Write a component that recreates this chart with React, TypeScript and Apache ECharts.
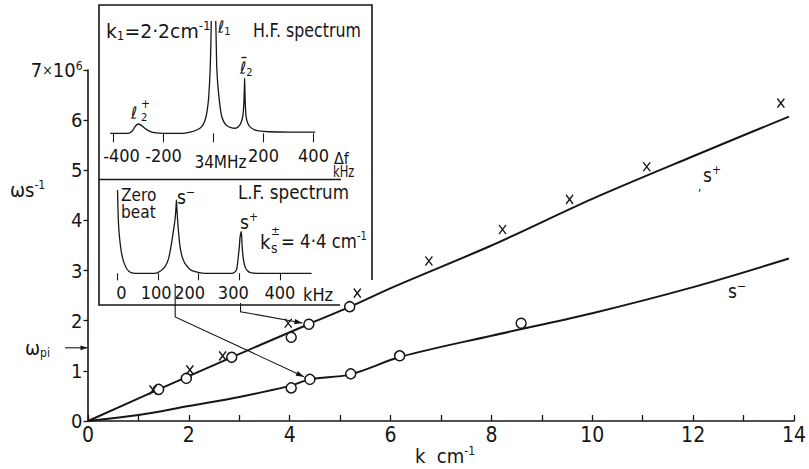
import React, { useEffect, useRef } from "react";
import * as echarts from "echarts";

// ---- main graph data (k in cm^-1, omega in units of 10^6 s^-1) ----
const xTicks = [0, 2, 4, 6, 8, 10, 12, 14];
const yTicks = [0, 1, 2, 3, 4, 5, 6, 7];
const upperK = [0, 1.4, 2.8, 4.35, 5.2, 6.05, 8, 10, 12, 13.9];
const upperW = [0, 0.63, 1.25, 1.92, 2.28, 2.67, 3.5, 4.43, 5.28, 6.07];
const lowerK = [0, 1, 2, 3, 4, 4.4, 5.2, 6.2, 8, 10, 12, 13.9];
const lowerW = [0, 0.12, 0.3, 0.48, 0.7, 0.83, 0.93, 1.28, 1.7, 2.15, 2.67, 3.24];
const circUpK = [1.4, 1.95, 2.85, 4.03, 4.38, 5.19];
const circUpW = [0.63, 0.85, 1.27, 1.67, 1.93, 2.28];
const circLoK = [4.03, 4.4, 5.21, 6.18, 8.59];
const circLoW = [0.66, 0.83, 0.94, 1.3, 1.95];
const crossK = [1.29, 2.02, 2.67, 3.97, 5.34, 6.76, 8.22, 9.55, 11.08, 13.74];
const crossW = [0.62, 1.02, 1.3, 1.95, 2.55, 3.19, 3.82, 4.42, 5.07, 6.34];
const omegaPi = 1.46;

// ---- H.F. spectrum (delta f in kHz, relative amplitude) ----
const hfTicks = [-400, -200, 0, 200, 400];
const hfTickLabels = ["-400", "-200", "34MHz", "200", "400"];
const hfF = [-413, -340, -325, -315, -302, -290, -275, -255, -230, -200, -120, -90, -65, -47, -35, -27, -20, -16, -13, -10.5, -9, 0, 9, 11, 13, 17, 23, 28, 33, 42, 53, 70, 87, 100, 110, 117, 121, 123.5, 124.5, 126, 128, 131, 138, 147, 165, 180, 220, 300, 407];
const hfA = [0, 0, 2, 5.5, 8.3, 7.3, 4.5, 1.8, 0.3, 0, 0, 1.2, 3.2, 6, 11, 18, 30, 44, 59, 80, 100, null, 100, 80, 59, 44, 30, 21, 15, 10, 7, 5, 4.5, 6, 9.5, 15, 25, 40, 49, 35, 22, 14, 8.5, 5.5, 3, 2.2, 1.4, 1, 1];

// ---- L.F. spectrum (f in kHz, relative amplitude) ----
const lfTicks = [0, 100, 200, 300, 400];
const lfTickLabels = ["0", "100", "200", "300", "400"];
const lfF = [0, 1, 2, 4, 7, 10, 15, 22, 28, 35, 45, 92, 105, 117, 126, 133, 138, 141.5, 144, 145, 146.5, 148, 151, 154, 159, 166, 178, 191, 215, 282, 290, 294, 297.5, 300, 302, 305, 307, 310, 314, 320, 330, 347, 478];
const lfA = [100, 80, 64, 48, 34, 24, 14, 6, 2.5, 0.5, 0, 0, 2.5, 8, 18, 36, 52, 64, 78, 88, 76, 64, 46, 32, 20, 12, 5, 2, 0, 0, 2, 6, 20, 32, 44, 50, 32, 17, 8, 3, 0.5, 0, 0];
const sMinusKHz = 142;
const sPlusKHz = 303;

const F = "'DejaVu Sans Condensed','Liberation Sans Narrow','DejaVu Sans',sans-serif";
const INK = "#161616";

const zip = (a: number[], b: (number | null)[]) => a.map((v, i) => [v, b[i] === null ? "-" : b[i]]);

function rich(size: number) {
  const s = Math.round(size * 0.62);
  return {
    n: { fontSize: size, fontFamily: F, fill: INK, lineHeight: Math.round(size * 1.15) },
    u: { fontSize: s, fontFamily: F, fill: INK, verticalAlign: "top", lineHeight: s },
    d: { fontSize: s, fontFamily: F, fill: INK, verticalAlign: "bottom", lineHeight: s },
  };
}

function T(x: number, y: number, text: string, size = 20, sx = 1) {
  const isRich = text.indexOf("{") >= 0;
  const style: any = isRich
    ? { text, align: "left", verticalAlign: "middle", fontFamily: F, fontSize: size, fill: INK, rich: rich(size) }
    : { text, align: "left", verticalAlign: "middle", fontFamily: F, fontSize: size, fill: INK, lineHeight: size };
  return { type: "text", x, y, scaleX: sx, z: 20, style };
}

function line(points: number[][], w = 1.1) {
  return { type: "polyline", z: 15, shape: { points }, style: { stroke: INK, lineWidth: w, fill: "none" } };
}

function head(tip: number[], from: number[], len = 8, half = 2.6) {
  const dx = tip[0] - from[0];
  const dy = tip[1] - from[1];
  const L = Math.hypot(dx, dy) || 1;
  const ux = dx / L;
  const uy = dy / L;
  const bx = tip[0] - ux * len;
  const by = tip[1] - uy * len;
  return {
    type: "polygon",
    z: 16,
    shape: { points: [tip, [bx - uy * half, by + ux * half], [bx + uy * half, by - ux * half]] },
    style: { fill: INK },
  };
}

export default function App() {
  const ref = useRef<HTMLDivElement>(null);
  useEffect(() => {
    const el = ref.current!;
    const chart = echarts.init(el, null, { renderer: "svg" });
    const mainLabelRich = {
      n: { fontSize: 20, fontFamily: F, color: INK },
      x: { fontSize: 14, fontFamily: F, color: INK },
      u: { fontSize: 12, fontFamily: F, color: INK, verticalAlign: "top", lineHeight: 10 },
    };
    const lfShift: Record<string, number[]> = { "0": [0, 0, 0, 8], "100": [0, 4, 0, 0], "200": [0, 18, 0, 0], "300": [0, 12, 0, 0], "400": [0, 0, 0, 0] };
    const lfRich: any = {};
    lfTickLabels.forEach((l, i) => {
      lfRich["l" + i] = { fontSize: 18, fontFamily: F, color: INK, padding: lfShift[l] };
    });
    const hfRich: any = {
      a: { fontSize: 18, fontFamily: F, color: INK },
      b: { fontSize: 18, fontFamily: F, color: INK, padding: [0, 0, 0, 16] },
      c: { fontSize: 17, fontFamily: F, color: INK, padding: [7, 0, 0, 14] },
    };
    const option: any = {
      animation: false,
      backgroundColor: "#ffffff",
      grid: [
        { left: 88, right: 2.3, top: 70, bottom: 48 },
        { left: 108.5, width: 210, top: 21, height: 112.3 },
        { left: 109.4, width: 203, top: 190, height: 83.3 },
      ],
      xAxis: [
        {
          type: "value", gridIndex: 0, min: 0, max: 14, interval: 1,
          axisLine: { show: true, lineStyle: { color: INK, width: 1.6 } },
          axisTick: { show: true, inside: true, length: 6, lineStyle: { color: INK, width: 1.3 } },
          axisLabel: {
            margin: 3, fontSize: 21, fontFamily: F, color: INK,
            formatter: (v: number) => (xTicks.indexOf(v) >= 0 ? String(v) : ""),
          },
          splitLine: { show: false },
        },
        {
          type: "value", gridIndex: 1, min: -420, max: 420, offset: 4.4,
          axisLine: { show: false },
          axisTick: { show: true, length: 9, customValues: hfTicks, lineStyle: { color: INK, width: 1.1 } },
          axisLabel: {
            margin: 9, fontSize: 18, fontFamily: F, color: INK, customValues: hfTicks, rich: hfRich,
            formatter: (v: number) => {
              const i = hfTicks.indexOf(v);
              const key = i === 0 ? "b" : i === 2 ? "c" : "a";
              return `{${key}|${hfTickLabels[i]}}`;
            },
          },
          splitLine: { show: false },
        },
        {
          type: "value", gridIndex: 2, min: -20, max: 480, offset: 6.7,
          axisLine: { show: false },
          axisTick: { show: true, length: 7, customValues: lfTicks, lineStyle: { color: INK, width: 1.1 } },
          axisLabel: {
            margin: 3, fontSize: 18, fontFamily: F, color: INK, customValues: lfTicks, rich: lfRich,
            formatter: (v: number) => {
              const i = lfTicks.indexOf(v);
              return `{l${i}|${lfTickLabels[i]}}`;
            },
          },
          splitLine: { show: false },
        },
      ],
      yAxis: [
        {
          type: "value", gridIndex: 0, min: 0, max: 7, interval: 1,
          axisLine: { show: true, lineStyle: { color: INK, width: 1.6 } },
          axisTick: { show: true, inside: false, length: 4.5, lineStyle: { color: INK, width: 1.3 } },
          axisLabel: {
            margin: 5.5, rich: mainLabelRich,
            formatter: (v: number) => (v === 7 ? "{n|7}{x|×}{n|10}{u|6}" : yTicks.indexOf(v) >= 0 ? `{n|${v}}` : ""),
          },
          splitLine: { show: false },
        },
        { type: "value", gridIndex: 1, min: 0, max: 100, show: false },
        { type: "value", gridIndex: 2, min: 0, max: 100, show: false },
      ],
      series: [
        { type: "line", name: "s+", xAxisIndex: 0, yAxisIndex: 0, data: zip(upperK, upperW), smooth: 0.3, symbol: "none", lineStyle: { color: INK, width: 2 }, z: 3 },
        { type: "line", name: "s-", xAxisIndex: 0, yAxisIndex: 0, data: zip(lowerK, lowerW), smooth: 0.35, symbol: "none", lineStyle: { color: INK, width: 2 }, z: 3 },
        {
          type: "scatter", name: "circles s+", xAxisIndex: 0, yAxisIndex: 0, data: zip(circUpK, circUpW), symbol: "circle", symbolSize: 10,
          itemStyle: { color: "#fff", borderColor: INK, borderWidth: 1.5, opacity: 1 }, z: 5,
        },
        {
          type: "scatter", name: "circles s-", xAxisIndex: 0, yAxisIndex: 0, data: zip(circLoK, circLoW), symbol: "circle", symbolSize: 10,
          itemStyle: { color: "#fff", borderColor: INK, borderWidth: 1.5, opacity: 1 }, z: 5,
        },
        {
          type: "scatter", name: "crosses", xAxisIndex: 0, yAxisIndex: 0, data: zip(crossK, crossW), symbol: "path://M0,0L10,12M10,0L0,12", symbolSize: [7, 9],
          itemStyle: { color: "none", borderColor: INK, borderWidth: 1.4, opacity: 1 }, z: 5,
        },
        { type: "line", name: "HF", xAxisIndex: 1, yAxisIndex: 1, data: zip(hfF, hfA), smooth: 0.2, connectNulls: false, symbol: "none", lineStyle: { color: INK, width: 1.3 }, z: 4 },
        { type: "line", name: "LF", xAxisIndex: 2, yAxisIndex: 2, data: zip(lfF, lfA), smooth: 0.2, symbol: "none", lineStyle: { color: INK, width: 1.3 }, z: 4 },
      ],
    };
    chart.setOption(option);

    const P = (g: number, x: number, y: number) => chart.convertToPixel({ gridIndex: g } as any, [x, y]) as number[];
    const g: any[] = [];
    // inset frame
    g.push(line([[372, 280], [372, 5], [99, 5], [99, 305], [340, 305]], 1.6));
    g.push(line([[99, 179.5], [341, 179.5]], 1.5));

    // arrows from L.F. peaks to data points
    const arrow = (startKHz: number, startY: number, elbowY: number, target: number[]) => {
      const s = P(2, startKHz, 0);
      const c = P(0, target[0], target[1]);
      const elbow = [s[0], elbowY];
      const dx = c[0] - elbow[0];
      const dy = c[1] - elbow[1];
      const L = Math.hypot(dx, dy);
      const tip = [c[0] - (dx / L) * 6.5, c[1] - (dy / L) * 6.5];
      g.push(line([[s[0], startY], elbow, tip], 1.1));
      g.push(head(tip, elbow));
    };
    arrow(sMinusKHz, 284, 317, [circLoK[1], circLoW[1]]);
    arrow(sPlusKHz, 303, 311.7, [circUpK[4], circUpW[4]]);

    // omega_pi arrow
    const wp = P(0, 0, omegaPi);
    g.push(line([[65, wp[1]], [wp[0] - 1, wp[1]]], 1.1));
    g.push(head([wp[0] - 0.5, wp[1]], [65, wp[1]], 7, 2.4));

    // main axis titles and curve labels
    g.push(T(10, 190, "{n|ωs}{u|-1}", 20));
    g.push(T(25, wp[1], "{n|ω}{d|pi}", 20));
    g.push(T(415, 456, "{n|k  cm}{u|-1}", 20));
    g.push(T(703, 175, "{n|s}{u|+}", 19));
    g.push(T(698, 187, ",", 12));
    g.push(T(728, 291, "{n|s}{u|−}", 19));

    // H.F. spectrum texts
    g.push(T(106, 31, "{n|k}{d|1}{n|=2·2cm}{u|-1}", 19, 1.1));
    g.push(T(218, 27, "{n|ℓ}{d|1}", 17));
    g.push(T(253, 30, "H.F. spectrum", 20, 0.88));
    g.push(T(240, 68, "{n|ℓ}{d|2}", 17));
    g.push(line([[241.5, 57.5], [246.5, 57.5]], 1.3));
    g.push(T(131, 113, "ℓ", 17));
    g.push(T(141, 104, "+", 12));
    g.push(T(141, 117, "2", 11));
    g.push(T(334, 158, "Δf", 16));
    g.push(T(333, 172, "kHz", 15, 0.85));

    // L.F. spectrum texts
    g.push(T(121, 195, "Zero", 18, 0.95));
    g.push(T(121, 212, "beat", 18, 0.95));
    g.push(T(177, 197, "{n|s}{u|−}", 19));
    g.push(T(238, 192, "L.F. spectrum", 20, 0.93));
    g.push(T(240, 222, "{n|s}{u|+}", 19));
    g.push(T(260, 242, "k", 20));
    g.push(T(271, 231, "±", 12));
    g.push(T(271, 248, "s", 14));
    g.push(T(281, 241, "{n|= 4·4 cm}{u|-1}", 20, 0.92));
    g.push(T(303, 294, "kHz", 18));

    chart.setOption({ graphic: g });
    return () => chart.dispose();
  }, []);
  return <div ref={ref} style={{ position: "absolute", left: 0, top: 0, width: 809, height: 469 }} />;
}
